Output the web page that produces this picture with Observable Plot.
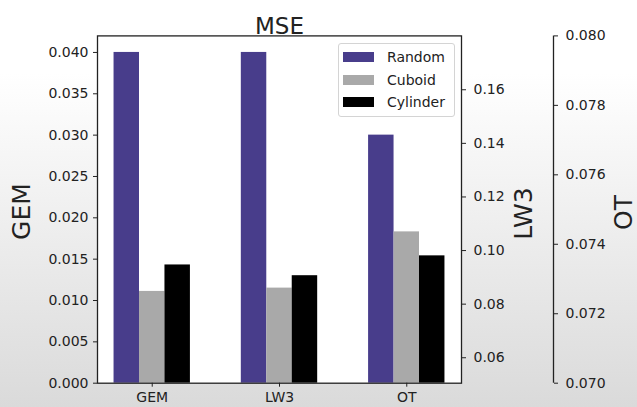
<!DOCTYPE html>
<html>
<head>
<meta charset="utf-8">
<script src="https://cdn.jsdelivr.net/npm/d3@7"></script>
<script src="https://cdn.jsdelivr.net/npm/@observablehq/plot@0.6"></script>
<style>
  html, body { margin: 0; padding: 0; }
  body {
    width: 637px; height: 407px; overflow: hidden;
    background: linear-gradient(to bottom, #ffffff 0%, #ffffff 18%, #dadada 100%);
    font-family: "DejaVu Sans", sans-serif;
  }
  #wrap { position: relative; width: 637px; height: 407px; }
  #wrap > svg, #wrap > figure { position: absolute; left: 0; top: 0; margin: 0; }
  .legend {
    position: absolute; left: 338px; top: 43px; width: 115px; height: 72px;
    border: 1px solid #d4d4d4; border-radius: 3px; background: rgba(255,255,255,0.85);
    font-size: 14px; color: #222;
  }
  .legend .row { position: absolute; left: 4px; height: 20px; display: flex; align-items: center; }
  .legend .sw { width: 31px; height: 10px; margin-right: 13px; }
</style>
</head>
<body>
<div id="wrap"></div>
<script>
const groups = ["GEM", "LW3", "OT"];
const series = ["Random", "Cuboid", "Cylinder"];
const colors = ["#483d8b", "#a9a9a9", "#000000"];
const randomVals = [0.040, 0.040, 0.030];
const cuboidVals = [0.0111, 0.0115, 0.0183];
const cylinderVals = [0.0143, 0.0130, 0.0154];
const gemTicks = [0, 0.005, 0.010, 0.015, 0.020, 0.025, 0.030, 0.035, 0.040];
const lw3Ticks = [0.06, 0.08, 0.10, 0.12, 0.14, 0.16];
const otTicks = [0.070, 0.072, 0.074, 0.076, 0.078, 0.080];
const title = "MSE";

const W = 637, H = 407;
const mL = 97, mR = 176, mT = 35.4, mB = 24.3;
const barW = 0.2;
const font = "DejaVu Sans, sans-serif";
const ink = "#222";

const valsBySeries = [randomVals, cuboidVals, cylinderVals];
const data = series.flatMap((s, j) => groups.map((g, i) => ({group: g, gi: i, series: s, sj: j, value: valsBySeries[j][i]})));

const wrap = document.getElementById("wrap");

const main = Plot.plot({
  width: W, height: H,
  marginLeft: mL, marginRight: mR, marginTop: mT, marginBottom: mB,
  style: {background: "transparent", fontFamily: font, fontSize: "14px", color: ink},
  x: {domain: [-0.43, 2.43]},
  y: {domain: [0, 0.042]},
  color: {domain: series, range: colors},
  marks: [
    Plot.frame({fill: "white", stroke: null}),
    Plot.rect(data, {
      x1: d => d.gi + (d.sj - 1) * barW - barW / 2,
      x2: d => d.gi + (d.sj - 1) * barW + barW / 2,
      y1: 0, y2: "value", fill: "series"
    }),
    Plot.frame({stroke: ink, strokeWidth: 1.3}),
    Plot.axisY(gemTicks, {anchor: "left", tickFormat: d3.format(".3f"), tickSize: 4, tickPadding: 5, label: null, stroke: ink, fill: ink}),
    Plot.axisX([0, 1, 2], {anchor: "bottom", tickFormat: i => groups[i], tickSize: 4, tickPadding: 5, label: null, stroke: ink, fill: ink}),
    Plot.text([title], {frameAnchor: "top", textAnchor: "middle", dy: -18, fontSize: 23, fill: ink}),
    Plot.text(["GEM"], {frameAnchor: "left", textAnchor: "middle", dx: -76, dy: 2, rotate: -90, fontSize: 25, fill: ink}),
    Plot.text(["LW3"], {frameAnchor: "right", textAnchor: "middle", dx: 62, dy: 4, rotate: -90, fontSize: 25, fill: ink}),
    Plot.text(["OT"], {frameAnchor: "right", textAnchor: "middle", dx: 162, dy: 3, rotate: -90, fontSize: 25, fill: ink})
  ]
});
wrap.appendChild(main);

const lw3 = Plot.plot({
  width: W, height: H,
  marginLeft: mL, marginRight: mR, marginTop: mT, marginBottom: mB,
  style: {background: "transparent", fontFamily: font, fontSize: "14px", color: ink},
  y: {domain: [0.0505, 0.1801]},
  marks: [
    Plot.axisY(lw3Ticks, {anchor: "right", tickFormat: d3.format(".2f"), tickSize: 4, tickPadding: 8, label: null, stroke: ink, fill: ink})
  ]
});
wrap.appendChild(lw3);

const ot = Plot.plot({
  width: W, height: H,
  marginLeft: mL, marginRight: W - 553, marginTop: mT, marginBottom: mB,
  style: {background: "transparent", fontFamily: font, fontSize: "14px", color: ink},
  x: {domain: [0, 1], axis: null},
  y: {domain: [0.070, 0.080]},
  marks: [
    Plot.ruleX([1], {stroke: ink, strokeWidth: 1.3}),
    Plot.axisY(otTicks, {anchor: "right", tickFormat: d3.format(".3f"), tickSize: 4, tickPadding: 8, label: null, stroke: ink, fill: ink})
  ]
});
wrap.appendChild(ot);

const legend = document.createElement("div");
legend.className = "legend";
const rowTops = [3, 26, 48];
series.forEach((s, j) => {
  const row = document.createElement("div");
  row.className = "row";
  row.style.top = rowTops[j] + "px";
  const sw = document.createElement("div");
  sw.className = "sw";
  sw.style.background = colors[j];
  const lab = document.createElement("span");
  lab.textContent = s;
  row.appendChild(sw);
  row.appendChild(lab);
  legend.appendChild(row);
});
wrap.appendChild(legend);
</script>
</body>
</html>
